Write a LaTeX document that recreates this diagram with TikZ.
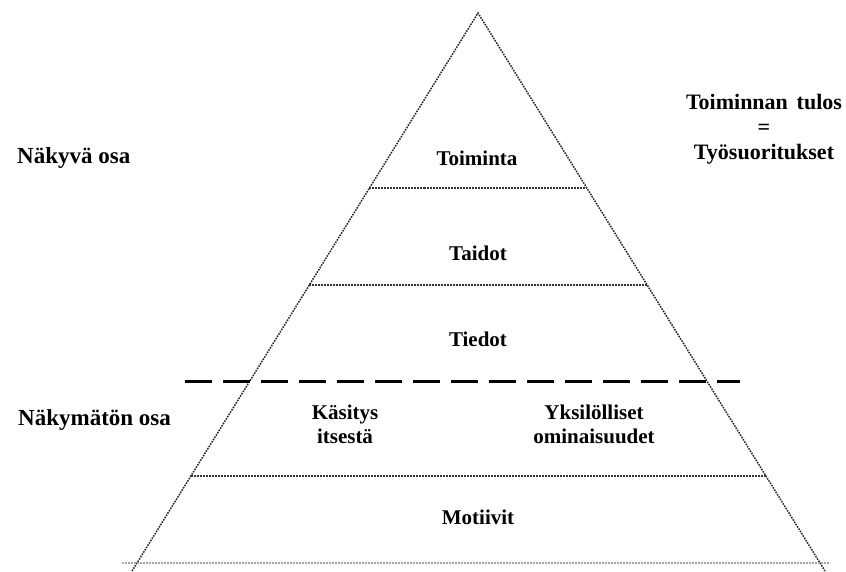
\documentclass[tikz,border=0pt]{standalone}
\usepackage{fontspec}
\setmainfont{Liberation Serif}
\usetikzlibrary{calc}

\tikzset{
  edgeline/.style={line width=1.5pt, black!85, dash pattern=on 1.6pt off 1.1pt},
  layerline/.style={line width=1.1pt, black!80, dash pattern=on 2pt off 1pt},
  splitline/.style={line width=3pt, black, dash pattern=on 27pt off 11pt},
  layerlabel/.style={font=\fontsize{21}{24}\selectfont\bfseries, align=center, inner sep=0pt},
  sidelabel/.style={font=\fontsize{23}{26}\selectfont\bfseries, anchor=west, inner sep=0pt},
}

\begin{document}
\begin{tikzpicture}[x=1pt, y=-1pt]
    \useasboundingbox (0,0) rectangle (846,571);

    % Pyramid outline
    \coordinate (apex) at (478,13);
    \coordinate (bl) at (132,571);
    \coordinate (br) at (825,571);
    \draw[edgeline] (bl) -- (apex) -- (br);

    % Layer borders
    \coordinate (l1) at ($(apex)!0.3136!(bl)$);
    \coordinate (r1) at ($(apex)!0.3136!(br)$);
    \coordinate (l2) at ($(apex)!0.4875!(bl)$);
    \coordinate (r2) at ($(apex)!0.4875!(br)$);
    \coordinate (l3) at ($(apex)!0.8297!(bl)$);
    \coordinate (r3) at ($(apex)!0.8297!(br)$);
    \coordinate (b0) at (122,563);
    \coordinate (b1) at (830,563);
    \draw[layerline] (l1) -- (r1);
    \draw[layerline] (l2) -- (r2);
    \draw[layerline] (l3) -- (r3);
    \draw[layerline, black!35] (b0) -- (b1);

    % Visible / hidden split
    \coordinate (s0) at (185,381);
    \coordinate (s1) at (740,381);
    \draw[splitline] (s0) -- (s1);

    % Layer labels
    \node[layerlabel] (toiminta) at (477,158) {Toiminta};
    \node[layerlabel] (taidot) at (478,253) {Taidot};
    \node[layerlabel] (tiedot) at (478,339) {Tiedot};
    \node[layerlabel] (kasitys) at (345,424) {Käsitys\\itsestä};
    \node[layerlabel] (yksilo) at (594,424) {Yksilölliset\\ominaisuudet};
    \node[layerlabel] (motiivit) at (478,517) {Motiivit};

    % Side labels
    \node[sidelabel] (nakyva) at (17,158) {Näkyvä osa};
    \node[sidelabel] (nakymaton) at (18,420) {Näkymätön osa};
    \node[font=\fontsize{22}{25}\selectfont\bfseries, align=center, inner sep=0pt] (tulos) at (764,129)
      {Toiminnan\hspace{0.4em}tulos\\=\\Työsuoritukset};

  \end{tikzpicture}
\end{document}
